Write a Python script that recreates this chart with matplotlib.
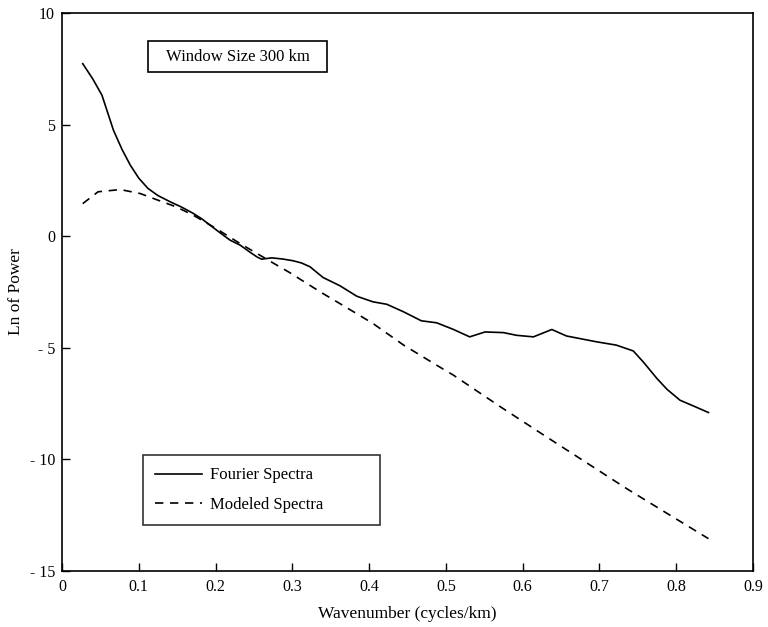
import matplotlib
matplotlib.use("Agg")
import matplotlib.pyplot as plt
from matplotlib.patches import Rectangle

plt.rcParams['font.family'] = ['Liberation Serif', 'DejaVu Serif']

fourier_x = [0.027, 0.040, 0.052, 0.067, 0.078, 0.089, 0.100, 0.112, 0.125, 0.141,
             0.156, 0.171, 0.182, 0.193, 0.206, 0.219, 0.232, 0.245, 0.254, 0.260,
             0.273, 0.287, 0.301, 0.312, 0.323, 0.340, 0.362, 0.384, 0.405, 0.423,
             0.445, 0.468, 0.488, 0.510, 0.531, 0.551, 0.575, 0.592, 0.614, 0.638,
             0.657, 0.696, 0.722, 0.744, 0.757, 0.775, 0.788, 0.805, 0.822, 0.842]
fourier_y = [7.73, 7.05, 6.32, 4.75, 3.90, 3.18, 2.60, 2.14, 1.82, 1.54,
             1.30, 1.02, 0.78, 0.49, 0.15, -0.18, -0.40, -0.72, -0.93, -1.03,
             -0.97, -1.02, -1.10, -1.20, -1.37, -1.85, -2.22, -2.69, -2.94, -3.05,
             -3.39, -3.79, -3.88, -4.18, -4.51, -4.29, -4.32, -4.44, -4.51, -4.18,
             -4.47, -4.73, -4.88, -5.14, -5.63, -6.38, -6.86, -7.35, -7.60, -7.90]

model_x = [0.027, 0.047, 0.076, 0.102, 0.123, 0.149, 0.171, 0.197, 0.232, 0.275,
           0.297, 0.319, 0.340, 0.362, 0.405, 0.445, 0.488, 0.510, 0.570, 0.631,
           0.690, 0.735, 0.790, 0.842]
model_y = [1.46, 1.99, 2.09, 1.91, 1.64, 1.31, 0.94, 0.42, -0.33, -1.20,
           -1.64, -2.12, -2.57, -3.02, -3.91, -4.88, -5.78, -6.23, -7.62, -8.99,
           -10.30, -11.30, -12.46, -13.55]

x_ticks = [0, 0.1, 0.2, 0.3, 0.4, 0.5, 0.6, 0.7, 0.8, 0.9]
x_tick_labels = ["0", "0.1", "0.2", "0.3", "0.4", "0.5", "0.6", "0.7", "0.8", "0.9"]
y_ticks = [-15, -10, -5, 0, 5, 10]
y_tick_labels = ["- 15", "- 10", "- 5", "0", "5", "10"]

fig = plt.figure(figsize=(7.68, 6.27), dpi=100)
ax = fig.add_axes([62/768, 1-571/627, 691/768, 558/627])

ax.plot(fourier_x, fourier_y, color='black', lw=1.2, label='Fourier Spectra')
ln, = ax.plot(model_x, model_y, color='black', lw=1.2, label='Modeled Spectra')
ln.set_dashes((5, 4))

ax.set_xlim(0, 0.9)
ax.set_ylim(-15, 10)
ax.set_xticks(x_ticks)
ax.set_xticklabels(x_tick_labels)
ax.set_yticks(y_ticks)
ax.set_yticklabels(y_tick_labels)
ax.tick_params(direction='in', length=5.5, width=1.0, labelsize=11.5, colors='black',
               top=False, right=False)
ax.tick_params(axis='x', pad=6)
ax.tick_params(axis='y', pad=5)
for s in ax.spines.values():
    s.set_linewidth(1.2)
    s.set_color('black')

ax.set_xlabel('Wavenumber (cycles/km)', fontsize=12.5, labelpad=8)
ax.set_ylabel('Ln of Power', fontsize=12.5, labelpad=4)

# title box
ax.add_patch(Rectangle((0.1245, 0.894), 0.259, 0.056, transform=ax.transAxes,
                       fill=False, edgecolor='black', lw=1.2))
ax.text(0.254, 0.922, 'Window Size 300 km', transform=ax.transAxes,
        ha='center', va='center', fontsize=12)

leg = ax.legend(loc='lower left', bbox_to_anchor=(0.117, 0.082, 0.343, 0.124),
                mode='expand', frameon=True, fancybox=False, edgecolor='black',
                fontsize=12, handlelength=2.8, handletextpad=0.5,
                labelspacing=0.8, borderpad=0.75, borderaxespad=0)
leg.get_frame().set_linewidth(1.2)

fig.savefig('out.png', dpi=100)
